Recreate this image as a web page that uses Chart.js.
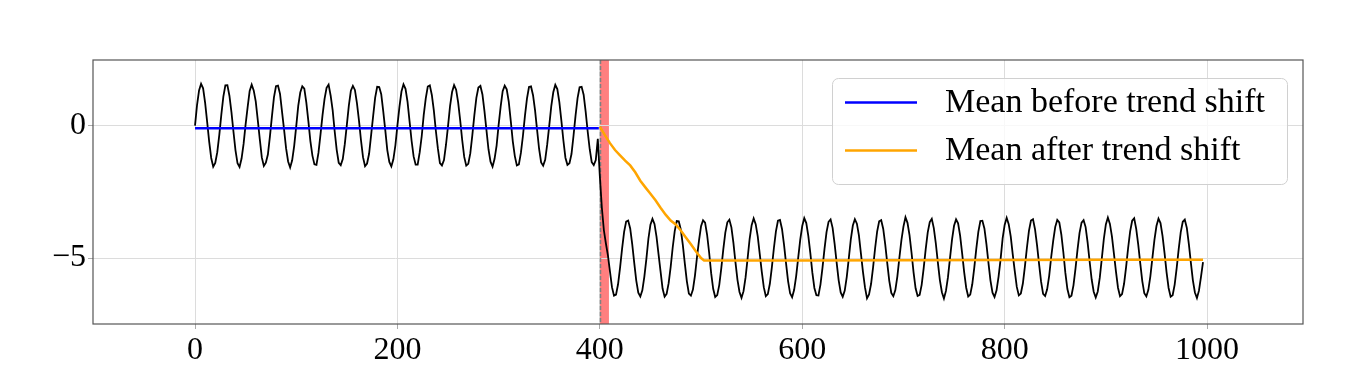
<!DOCTYPE html>
<html>
<head>
<meta charset="utf-8">
<script src="https://cdn.jsdelivr.net/npm/chart.js@4.4.1/dist/chart.umd.min.js"></script>
<style>
  html, body { margin: 0; padding: 0; background: #fff; }
  #chart { display: block; }
</style>
</head>
<body>
<canvas id="chart" width="1352" height="370"></canvas>
<script>
// signal, one value every 2 time steps (t = 0, 2, 4 ... 996)
var SAMPLE_STEP = 2;
var signal = [
    0.00, 0.78, 1.33, 1.58, 1.41, 0.86, 0.14, -0.60, -1.22, -1.55, -1.41, -1.00, -0.35, 0.42, 1.10, 1.52, 1.53, 1.13, 0.51, -0.23, -0.93, -1.42, -1.56, -1.24, -0.69,
    0.05, 0.70, 1.31, 1.55, 1.33, 0.92, 0.22, -0.51, -1.20, -1.52, -1.40, -1.09, -0.41, 0.35, 1.07, 1.49, 1.51, 1.20, 0.52, -0.15, -0.86, -1.35, -1.58, -1.31, -0.76,
    -0.03, 0.75, 1.25, 1.49, 1.40, 0.87, 0.17, -0.58, -1.13, -1.46, -1.48, -1.02, -0.33, 0.40, 1.01, 1.43, 1.55, 1.14, 0.59, -0.21, -0.91, -1.40, -1.49, -1.26, -0.70,
    0.02, 0.76, 1.32, 1.50, 1.35, 0.85, 0.20, -0.55, -1.19, -1.53, -1.43, -1.06, -0.36, 0.36, 1.06, 1.47, 1.46, 1.19, 0.54, -0.17, -0.92, -1.37, -1.54, -1.27, -0.74,
    0.01, 0.71, 1.29, 1.56, 1.39, 0.90, 0.16, -0.57, -1.16, -1.47, -1.47, -1.01, -0.40, 0.41, 1.03, 1.48, 1.52, 1.16, 0.57, -0.20, -0.87, -1.41, -1.50, -1.30, -0.72,
    -0.02, 0.74, 1.27, 1.53, 1.36, 0.88, 0.21, -0.54, -1.18, -1.51, -1.44, -1.05, -0.37, 0.39, 1.05, 1.44, 1.50, 1.18, 0.55, -0.18, -0.90, -1.36, -1.55, -1.25, -0.75,
    0.03, 0.72, 1.30, 1.51, 1.37, 0.91, 0.18, -0.59, -1.15, -1.50, -1.46, -1.03, -0.39, 0.37, 1.02, 1.46, 1.48, 1.15, 0.58, -0.16, -0.88, -1.39, -1.51, -1.29, -0.71,
    -0.01, 0.73, 1.26, 1.54, 1.38, 0.89, 0.19, -0.56, -1.21, -1.48, -1.42, -1.07, -0.38, 0.38, 1.04, 1.45, 1.47, 1.17, 0.53, -0.22, -0.89, -1.38, -1.49, -1.30, -0.50,
    // the shift at t = 400
    -1.90, -3.10, -3.95, -4.45, -4.90, -5.50, -6.10, -6.42, -6.38, -5.99, -5.36, -4.64, -4.01, -3.62, -3.58, -3.88, -4.47, -5.18, -5.85, -6.31, -6.45, -6.22, -5.70,
    -5.03, -4.27, -3.74, -3.52, -3.71, -4.19, -4.85, -5.50, -6.15, -6.46, -6.35, -5.95, -5.33, -4.60, -3.98, -3.60, -3.61, -3.92, -4.50, -5.21, -5.88, -6.34, -6.42, -6.19, -5.66,
    -4.97, -4.33, -3.80, -3.57, -3.66, -4.12, -4.79, -5.57, -6.16, -6.47, -6.40, -6.02, -5.39, -4.67, -4.04, -3.65, -3.55, -3.84, -4.43, -5.15, -5.82, -6.28, -6.50, -6.25, -5.73,
    -5.02, -4.28, -3.76, -3.50, -3.72, -4.17, -4.84, -5.51, -6.10, -6.44, -6.36, -5.97, -5.34, -4.62, -3.99, -3.59, -3.56, -3.90, -4.49, -5.20, -5.87, -6.33, -6.48, -6.20, -5.68,
    -4.99, -4.31, -3.79, -3.49, -3.68, -4.16, -4.81, -5.55, -6.13, -6.40, -6.41, -6.00, -5.37, -4.65, -4.02, -3.63, -3.54, -3.86, -4.46, -5.17, -5.84, -6.30, -6.46, -6.23, -5.71,
    -5.01, -4.29, -3.77, -3.53, -3.70, -4.14, -4.83, -5.52, -6.11, -6.52, -6.37, -5.98, -5.35, -4.63, -4.00, -3.61, -3.57, -3.89, -4.48, -5.19, -5.86, -6.32, -6.44, -6.21, -5.69,
    -4.98, -4.32, -3.81, -3.46, -3.67, -4.13, -4.80, -5.54, -6.14, -6.43, -6.39, -6.01, -5.38, -4.66, -4.03, -3.64, -3.52, -3.87, -4.45, -5.16, -5.83, -6.29, -6.53, -6.24, -5.72,
    -5.00, -4.30, -3.78, -3.54, -3.69, -4.15, -4.82, -5.53, -6.12, -6.45, -6.38, -5.99, -5.36, -4.64, -4.01, -3.60, -3.59, -3.88, -4.47, -5.18, -5.85, -6.31, -6.47, -6.22, -5.70,
    -5.04, -4.26, -3.75, -3.48, -3.72, -4.18, -4.86, -5.49, -6.09, -6.41, -6.34, -5.96, -5.32, -4.61, -3.97, -3.58, -3.53, -3.91, -4.51, -5.22, -5.89, -6.35, -6.43, -6.18, -5.67,
    -4.96, -4.34, -3.82, -3.56, -3.65, -4.11, -4.78, -5.56, -6.17, -6.48, -6.42, -6.03, -5.40, -4.68, -4.05, -3.66, -3.57, -3.83, -4.42, -5.14, -5.81, -6.27, -6.49, -6.26, -5.74,
    -5.02, -4.28, -3.73, -3.47, -3.71, -4.18, -4.84, -5.51, -6.12, -6.44, -6.36, -5.97, -5.34, -4.62, -3.99, -3.59, -3.50, -3.90, -4.49, -5.20, -5.87, -6.33, -6.45, -6.20, -5.68,
    -4.99, -4.31, -3.79, -3.51, -3.68, -4.16, -4.81, -5.54, -6.13, -6.46, -6.40, -6.00, -5.37, -4.65, -4.02, -3.63, -3.55, -3.86, -4.46, -5.17, -5.84, -6.30, -6.51, -6.23, -5.71,
    -5.15
];

var meanBeforeX = [0, 100, 200, 300, 399];
var meanBeforeY = [-0.10, -0.10, -0.10, -0.10, -0.10];

var meanAfterX = [400, 405, 410, 415, 420, 425, 430, 435, 440, 445, 450, 455, 460, 465, 470, 475, 480, 485, 490, 495, 500, 503, 600, 700, 800, 900, 996];
var meanAfterY = [-0.04, -0.36, -0.66, -0.92, -1.12, -1.32, -1.50, -1.76, -2.08, -2.33, -2.57, -2.82, -3.10, -3.36, -3.58, -3.73, -3.96, -4.22, -4.48, -4.75, -5.00, -5.09, -5.09, -5.08, -5.07, -5.06, -5.06];

var shiftPoint = 400;
var shiftBand = [400, 409];

var xTicks = [0, 200, 400, 600, 800, 1000];
var yTicks = [-5, 0];
var xRange = [-100.8, 1094.8];
var yRange = [-7.49, 2.48];

var serif = "'Liberation Serif', 'Times New Roman', serif";

function toPoints(xs, ys) {
    return ys.map(function (y, i) { return { x: xs[i], y: y }; });
}

var signalPoints = signal.map(function (v, i) { return { x: i * SAMPLE_STEP, y: v }; });

// red span + dashed line at the shift
var shiftMarker = {
    id: 'shiftMarker',
    beforeDraw: function (chart) {
        var ctx = chart.ctx, area = chart.chartArea, xs = chart.scales.x;
        var x0 = xs.getPixelForValue(shiftBand[0]);
        var x1 = xs.getPixelForValue(shiftBand[1]);
        ctx.save();
        ctx.fillStyle = 'rgba(255, 0, 0, 0.5)';
        ctx.fillRect(x0, area.top, x1 - x0, area.bottom - area.top);
        ctx.restore();
    },
    beforeDatasetsDraw: function (chart) {
        var ctx = chart.ctx, area = chart.chartArea;
        var x = Math.round(chart.scales.x.getPixelForValue(shiftPoint)) + 0.5;
        ctx.save();
        ctx.strokeStyle = '#808080';
        ctx.lineWidth = 1.5;
        ctx.setLineDash([4, 2]);
        ctx.beginPath();
        ctx.moveTo(x, area.top);
        ctx.lineTo(x, area.bottom);
        ctx.stroke();
        ctx.restore();
    }
};

var frame = {
    id: 'frame',
    afterDatasetsDraw: function (chart) {
        var ctx = chart.ctx, a = chart.chartArea;
        ctx.save();
        ctx.strokeStyle = '#555';
        ctx.lineWidth = 1.2;
        ctx.strokeRect(a.left, a.top, a.right - a.left, a.bottom - a.top);
        ctx.restore();
    }
};

// matplotlib style legend box, top right inside the axes
var legendBox = {
    id: 'legendBox',
    afterDraw: function (chart) {
        var ctx = chart.ctx, a = chart.chartArea;
        var left = a.right - 471, top = a.top + 18, w = 455, h = 106;
        ctx.save();
        ctx.beginPath();
        ctx.roundRect(left + 0.5, top + 0.5, w, h, 6);
        ctx.fillStyle = 'rgba(255, 255, 255, 0.8)';
        ctx.fill();
        ctx.strokeStyle = '#d0d0d0';
        ctx.lineWidth = 1;
        ctx.stroke();
        var items = chart.data.datasets.filter(function (d) { return d.inLegend; });
        items.forEach(function (d, i) {
            var y = top + 24.5 + i * 48;
            ctx.strokeStyle = d.borderColor;
            ctx.lineWidth = 2.5;
            ctx.beginPath();
            ctx.moveTo(left + 13, y);
            ctx.lineTo(left + 85, y);
            ctx.stroke();
            ctx.fillStyle = '#000';
            ctx.font = '34px ' + serif;
            ctx.textBaseline = 'middle';
            ctx.fillText(d.label, left + 113, y + 1);
        });
        ctx.restore();
    }
};

var chart = new Chart(document.getElementById('chart').getContext('2d'), {
    type: 'line',
    data: {
        datasets: [{
            label: 'Mean before trend shift',
            data: toPoints(meanBeforeX, meanBeforeY),
            borderColor: '#0000ff',
            borderWidth: 2.5,
            pointRadius: 0,
            order: 1,
            inLegend: true
        }, {
            label: 'Mean after trend shift',
            data: toPoints(meanAfterX, meanAfterY),
            borderColor: '#ffa500',
            borderWidth: 2.5,
            pointRadius: 0,
            order: 2,
            inLegend: true
        }, {
            label: 'Signal',
            data: signalPoints,
            borderColor: '#000000',
            borderWidth: 1.8,
            pointRadius: 0,
            order: 3
        }]
    },
    options: {
        responsive: false,
        animation: false,
        events: [],
        layout: { padding: { left: 0, right: 49, top: 60, bottom: 0 } },
        plugins: {
            legend: { display: false },
            tooltip: { enabled: false }
        },
        scales: {
            x: {
                type: 'linear',
                min: xRange[0],
                max: xRange[1],
                afterBuildTicks: function (scale) {
                    scale.ticks = xTicks.map(function (v) { return { value: v }; });
                },
                afterFit: function (scale) { scale.height = 46; },
                grid: { color: '#dcdcdc', lineWidth: 1, tickLength: 5, tickColor: '#aaa' },
                border: { display: false },
                ticks: {
                    color: '#000',
                    font: { family: serif, size: 32 },
                    padding: 2,
                    maxRotation: 0,
                    callback: function (v) { return String(v); }
                }
            },
            y: {
                type: 'linear',
                min: yRange[0],
                max: yRange[1],
                afterBuildTicks: function (scale) {
                    scale.ticks = yTicks.map(function (v) { return { value: v }; });
                },
                afterFit: function (scale) { scale.width = 93; },
                grid: { color: '#dcdcdc', lineWidth: 1, tickLength: 5, tickColor: '#aaa' },
                border: { display: false },
                ticks: {
                    color: '#000',
                    font: { family: serif, size: 32 },
                    padding: 2,
                    callback: function (v) { return v < 0 ? '\u2212' + Math.abs(v) : String(v); }
                }
            }
        }
    },
    plugins: [shiftMarker, frame, legendBox]
});
</script>
</body>
</html>
